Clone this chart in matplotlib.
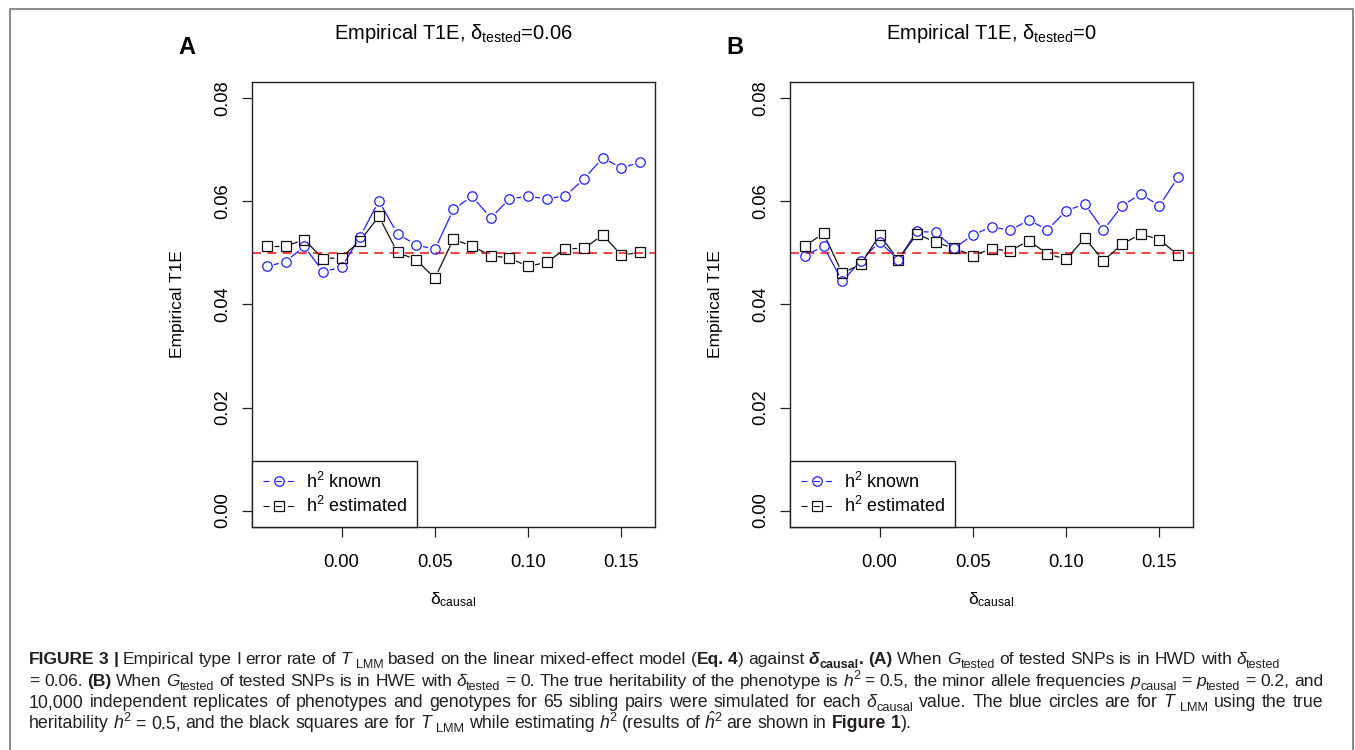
import matplotlib
matplotlib.use("Agg")
import matplotlib.pyplot as plt
from matplotlib import font_manager
from matplotlib.lines import Line2D
from matplotlib.transforms import IdentityTransform
import numpy as np

# values
delta_causal = [-0.04, -0.03, -0.02, -0.01, 0.00, 0.01, 0.02, 0.03, 0.04, 0.05, 0.06,
                0.07, 0.08, 0.09, 0.10, 0.11, 0.12, 0.13, 0.14, 0.15, 0.16]

a_known = [0.0474, 0.0483, 0.0513, 0.0464, 0.0472, 0.0532, 0.0601, 0.0537, 0.0516, 0.0507, 0.0585,
           0.0610, 0.0568, 0.0605, 0.0610, 0.0605, 0.0611, 0.0644, 0.0685, 0.0665, 0.0676]
a_est = [0.0513, 0.0513, 0.0526, 0.0489, 0.0491, 0.0524, 0.0571, 0.0501, 0.0487, 0.0451, 0.0527,
         0.0513, 0.0495, 0.0490, 0.0474, 0.0482, 0.0508, 0.0509, 0.0535, 0.0496, 0.0501]

b_known = [0.0495, 0.0513, 0.0445, 0.0485, 0.0522, 0.0487, 0.0542, 0.0540, 0.0509, 0.0535, 0.0551,
           0.0544, 0.0564, 0.0545, 0.0582, 0.0595, 0.0544, 0.0592, 0.0614, 0.0592, 0.0647]
b_est = [0.0514, 0.0538, 0.0461, 0.0478, 0.0535, 0.0487, 0.0537, 0.0521, 0.0509, 0.0495, 0.0508,
         0.0504, 0.0524, 0.0498, 0.0488, 0.0529, 0.0485, 0.0517, 0.0537, 0.0526, 0.0496]

nominal = 0.05
panel_letters = ["A", "B"]
panel_titles = [r"Empirical T1E, $\mathrm{\delta}_{\mathrm{tested}}$=0.06",
                r"Empirical T1E, $\mathrm{\delta}_{\mathrm{tested}}$=0"]
legend_labels = [r"h$^{2}$ known", r"h$^{2}$ estimated"]
x_ticks = [0.00, 0.05, 0.10, 0.15]
y_ticks = [0.00, 0.02, 0.04, 0.06, 0.08]

SANS = "Liberation Sans"
plt.rcParams["font.family"] = SANS
plt.rcParams["mathtext.fontset"] = "custom"
plt.rcParams["mathtext.rm"] = SANS
plt.rcParams["mathtext.it"] = SANS + ":italic"
plt.rcParams["mathtext.bf"] = SANS + ":bold"
plt.rcParams["lines.scale_dashes"] = False

W, H = 1355, 750
fig = plt.figure(figsize=(W / 100, H / 100), dpi=100)
fig.patch.set_facecolor("white")

FS = 13.2
BLUE = "#1f1fff"
BLACK = "#111111"


def px_axes(left, top, right, bottom):
    return [left / W, 1 - bottom / H, (right - left) / W, (bottom - top) / H]


def type_b(ax, x, y, gap, **kw):
    # R style type="b": line segments stop short of the points
    pts = ax.transData.transform(np.column_stack([x, y]))
    inv = ax.transData.inverted()
    for p, q in zip(pts[:-1], pts[1:]):
        d = q - p
        L = np.hypot(*d)
        if L <= 2 * gap:
            continue
        u = d / L
        seg = inv.transform(np.array([p + u * gap, q - u * gap]))
        ax.plot(seg[:, 0], seg[:, 1], solid_capstyle="butt", **kw)


panels = [(a_known, a_est, 252, 655), (b_known, b_est, 790, 1193)]
for i, (known, est, left, right) in enumerate(panels):
    ax = fig.add_axes(px_axes(left, 82, right, 527))
    ax.set_xlim(-0.048, 0.168)
    ax.set_ylim(-0.0032, 0.0832)
    for s in ax.spines.values():
        s.set_linewidth(1.0)
        s.set_color("#222222")
    ax.set_xticks(x_ticks)
    ax.set_xticklabels(["%.2f" % v for v in x_ticks])
    ax.set_yticks(y_ticks)
    ax.set_yticklabels(["%.2f" % v for v in y_ticks])
    ax.tick_params(axis="both", direction="out", length=7.2, width=0.9,
                   color="#222222", labelsize=FS)
    ax.tick_params(axis="x", pad=12)
    ax.tick_params(axis="y", pad=7.5, labelrotation=90)
    for lab in ax.get_yticklabels():
        lab.set_va("center")

    ax.axhline(nominal, color="#f04848", lw=1.5, ls=(0, (6.5, 4.5)), zorder=1)

    type_b(ax, delta_causal, known, 7, color=BLUE, lw=0.9, zorder=2)
    type_b(ax, delta_causal, est, 7, color=BLACK, lw=0.9, zorder=2)
    ax.plot(delta_causal, known, ls="none", marker="o", ms=6.8, mfc="none",
            mec=BLUE, mew=0.9, zorder=3)
    ax.plot(delta_causal, est, ls="none", marker="s", ms=6.8, mfc="none",
            mec=BLACK, mew=0.9, zorder=3)

    handles = [Line2D([], [], color=BLUE, lw=0.8, ls=(0, (4.4, 4.4)), marker="o", ms=6.8,
                      mfc="none", mec=BLUE, mew=0.9),
               Line2D([], [], color=BLACK, lw=0.8, ls=(0, (4.4, 4.4)), marker="s", ms=6.8,
                      mfc="none", mec=BLACK, mew=0.9)]
    leg = ax.legend(handles, legend_labels, loc="lower left", borderaxespad=0,
                    fontsize=12.9, frameon=True, fancybox=False, framealpha=1,
                    edgecolor="#222222", handlelength=1.8, handletextpad=0.6,
                    borderpad=0.6, labelspacing=0.25, numpoints=1)
    leg.get_frame().set_linewidth(1.0)

    ax.text(0.5, 1.11, panel_titles[i], transform=ax.transAxes, ha="center",
            va="center", fontsize=14.5)
    ax.text(-0.184, 0.5, "Empirical T1E", transform=ax.transAxes, rotation=90,
            ha="center", va="center", fontsize=12.5)
    ax.text(0.5, -0.164, r"$\mathrm{\delta}_{\mathrm{causal}}$", transform=ax.transAxes,
            ha="center", va="center", fontsize=12.5)

fig.text(187 / W, 1 - 47 / H, panel_letters[0], fontsize=17, fontweight="bold",
         ha="center", va="center")
fig.text(735 / W, 1 - 47 / H, panel_letters[1], fontsize=17, fontweight="bold",
         ha="center", va="center")

# outer frame of the figure (open at the bottom)
fig.add_artist(Line2D([9.5 / W, 9.5 / W, 1353 / W, 1353 / W],
                      [0, 1 - 8.5 / H, 1 - 8.5 / H, 0],
                      transform=fig.transFigure, color="#808080", lw=1.3))

# caption
names = {f.name for f in font_manager.fontManager.ttflist}
NARROW = "Liberation Sans Narrow" if "Liberation Sans Narrow" in names else SANS
renderer = fig.canvas.get_renderer()
CAP = "#231f20"


def style_kw(st, size):
    kw = {"fontsize": size, "fontweight": "normal", "fontstyle": "normal", "dy": 0.0}
    if st in ("b", "bi", "subb"):
        kw["fontweight"] = "bold"
    if st in ("i", "bi"):
        kw["fontstyle"] = "italic"
    if st in ("sub", "subb"):
        kw["fontsize"] = size * 0.72
        kw["dy"] = -0.22 * size * 100 / 72
    if st == "sup":
        kw["fontsize"] = size * 0.72
        kw["dy"] = 0.40 * size * 100 / 72
    return kw


def tokens(runs):
    toks = []
    for text, st in runs:
        parts = text.split(" ")
        for j, w in enumerate(parts):
            if w:
                toks.append([w, st, False])
            if j < len(parts) - 1 and toks:
                toks[-1][2] = True
    toks[-1][2] = False
    return toks


def measure(toks, family, size):
    ws = []
    for w, st, _ in toks:
        kw = style_kw(st, size)
        t = fig.text(0, 0, w, family=family, fontsize=kw["fontsize"],
                     fontweight=kw["fontweight"], fontstyle=kw["fontstyle"],
                     transform=IdentityTransform())
        ws.append(t.get_window_extent(renderer).width)
        t.remove()
    a = fig.text(0, 0, "a a", family=family, fontsize=size, transform=IdentityTransform())
    b = fig.text(0, 0, "aa", family=family, fontsize=size, transform=IdentityTransform())
    sp = a.get_window_extent(renderer).width - b.get_window_extent(renderer).width
    a.remove()
    b.remove()
    return ws, sp


def caption_line(runs, x0, ybase, target, size, justify=True):
    toks = tokens(runs)
    family = SANS
    ws, sp = measure(toks, family, size)
    ngap = sum(1 for t in toks if t[2])
    natural = sum(ws) + ngap * sp
    if target is not None and natural > target and NARROW != SANS:
        family = NARROW
        ws, sp = measure(toks, family, size)
        natural = sum(ws) + ngap * sp
    if target is not None and natural > target:
        size = size * target / natural
        ws, sp = measure(toks, family, size)
        natural = sum(ws) + ngap * sp
    extra = (target - natural) / ngap if (justify and target and ngap) else 0.0
    x = x0
    y = H - ybase
    for (w, st, gap), wd in zip(toks, ws):
        kw = style_kw(st, size)
        fig.text(x, y + kw["dy"], w, family=family, fontsize=kw["fontsize"],
                 fontweight=kw["fontweight"], fontstyle=kw["fontstyle"],
                 transform=IdentityTransform(), ha="left", va="baseline", color=CAP)
        x += wd
        if gap:
            x += sp + extra


cap_lines = [
    [("FIGURE 3 |", "b"), (" Empirical type I error rate of ", "n"), ("T ", "i"), ("LMM", "sub"),
     (" based on the linear mixed-effect model (", "n"), ("Eq. 4", "b"), (") against ", "n"),
     ("δ", "bi"), ("causal", "subb"), (". (A)", "b"), (" When ", "n"), ("G", "i"),
     ("tested", "sub"), (" of tested SNPs is in HWD with ", "n"), ("δ", "i"), ("tested", "sub")],
    [("= 0.06. ", "n"), ("(B)", "b"), (" When ", "n"), ("G", "i"), ("tested", "sub"),
     (" of tested SNPs is in HWE with ", "n"), ("δ", "i"), ("tested", "sub"),
     (" = 0. The true heritability of the phenotype is ", "n"), ("h", "i"), ("2", "sup"),
     (" = 0.5, the minor allele frequencies ", "n"), ("p", "i"), ("causal", "sub"),
     (" = ", "n"), ("p", "i"), ("tested", "sub"), (" = 0.2, and", "n")],
    [("10,000 independent replicates of phenotypes and genotypes for 65 sibling pairs were "
      "simulated for each ", "n"), ("δ", "i"), ("causal", "sub"),
     (" value. The blue circles are for ", "n"), ("T ", "i"), ("LMM", "sub"),
     (" using the true", "n")],
    [("heritability ", "n"), ("h", "i"), ("2", "sup"),
     (" = 0.5, and the black squares are for ", "n"), ("T ", "i"), ("LMM", "sub"),
     (" while estimating ", "n"), ("h", "i"), ("2", "sup"), (" (results of ", "n"),
     ("ĥ", "i"), ("2", "sup"), (" are shown in ", "n"), ("Figure 1", "b"), (").", "n")],
]
cap_targets = [1251, 1294, 1294, None]
cap_base = [664, 686, 707, 728.5]
for runs, tgt, yb in zip(cap_lines, cap_targets, cap_base):
    caption_line(runs, 29, yb, tgt, 12.8, justify=tgt is not None)

fig.savefig("out.png", dpi=100, facecolor="white")
